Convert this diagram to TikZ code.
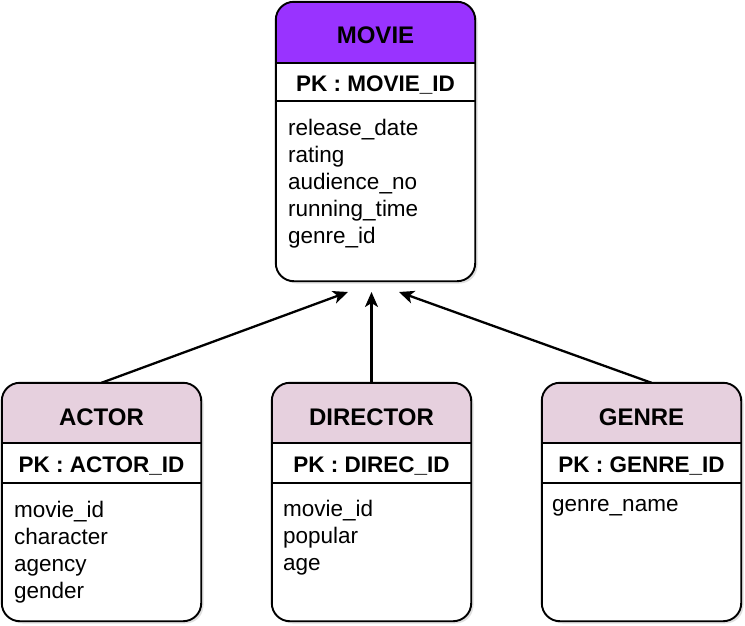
\documentclass[tikz,border=0pt]{standalone}
\usepackage{fontspec}
\setmainfont{Liberation Sans}
\usetikzlibrary{arrows.meta,shadows}

\definecolor{moviepurple}{HTML}{9933FF}
\definecolor{entitypink}{HTML}{E6D0DE}

\begin{document}
\begin{tikzpicture}[x=1pt,y=-1pt,
  box/.style={fill=white, rounded corners=18pt, minimum width=199pt, inner sep=0pt,
    drop shadow={shadow xshift=2.5pt, shadow yshift=-2.5pt, opacity=0.25}},
  border/.style={line width=1.9pt, rounded corners=18pt},
  divider/.style={line width=2.2pt},
  title/.style={font=\fontsize{24}{28}\selectfont\bfseries, anchor=base},
  pkey/.style={font=\fontsize{22.5}{27}\selectfont\bfseries, anchor=base},
  attr/.style={font=\fontsize{22.5}{27}\selectfont, anchor=base west, inner sep=0pt},
  link/.style={line width=2.3pt, -{Stealth[length=15pt,width=13pt,inset=4pt]}}]

  % Fix the page size
  \useasboundingbox (0,0) rectangle (745,625);

  % MOVIE table
  \node[box, minimum height=279pt] (movie) at (375.5,141.5) {};
  \begin{scope}
    \clip (276,2) rectangle (475,63);
    \fill[moviepurple, rounded corners=18pt] (movie.north west) rectangle (movie.south east);
  \end{scope}
  \draw[divider] (276,63) -- (475,63);
  \draw[divider] (276,101) -- (475,101);
  \draw[border] (movie.north west) rectangle (movie.south east);
  \node[title] (movie-title) at (375.5,43) {MOVIE};
  \node[pkey] (movie-pk) at (375.5,91) {PK : MOVIE\_ID};
  \foreach \t [count=\i] in {release\_date, rating, audience\_no, running\_time, genre\_id}
    \node[attr] (movie-a\i) at (288,108+27*\i) {\t};

  % ACTOR table
  \node[box, minimum height=238pt] (actor) at (101.5,502) {};
  \begin{scope}
    \clip (2,383) rectangle (201,443);
    \fill[entitypink, rounded corners=18pt] (actor.north west) rectangle (actor.south east);
  \end{scope}
  \draw[divider] (2,443) -- (201,443);
  \draw[divider] (2,483) -- (201,483);
  \draw[border] (actor.north west) rectangle (actor.south east);
  \node[title] (actor-title) at (101.5,425) {ACTOR};
  \node[pkey] (actor-pk) at (101.5,472) {PK : ACTOR\_ID};
  \foreach \t [count=\i] in {movie\_id, character, agency, gender}
    \node[attr] (actor-a\i) at (14,490+27*\i) {\t};

  % DIRECTOR table
  \node[box, minimum height=238pt] (director) at (371.5,502) {};
  \begin{scope}
    \clip (272,383) rectangle (471,443);
    \fill[entitypink, rounded corners=18pt] (director.north west) rectangle (director.south east);
  \end{scope}
  \draw[divider] (272,443) -- (471,443);
  \draw[divider] (272,483) -- (471,483);
  \draw[border] (director.north west) rectangle (director.south east);
  \node[title] (director-title) at (371.5,425) {DIRECTOR};
  \node[pkey] (director-pk) at (371.5,472) {PK : DIREC\_ID};
  \foreach \t [count=\i] in {movie\_id, popular, age}
    \node[attr] (director-a\i) at (283,489+27*\i) {\t};

  % GENRE table
  \node[box, minimum height=238pt] (genre) at (641.5,502) {};
  \begin{scope}
    \clip (542,383) rectangle (741,443);
    \fill[entitypink, rounded corners=18pt] (genre.north west) rectangle (genre.south east);
  \end{scope}
  \draw[divider] (542,443) -- (741,443);
  \draw[divider] (542,483) -- (741,483);
  \draw[border] (genre.north west) rectangle (genre.south east);
  \node[title] (genre-title) at (641.5,425) {GENRE};
  \node[pkey] (genre-pk) at (641.5,472) {PK : GENRE\_ID};
  \node[attr] (genre-a1) at (552,511) {genre\_name};

  % Arrow tips below MOVIE
  \coordinate (tipA) at (348,292);
  \coordinate (tipD) at (371.5,292);
  \coordinate (tipG) at (399,292);

  % Links to MOVIE
  \draw[link] (actor.north) -- (tipA);
  \draw[link] (director.north) -- (tipD);
  \draw[link] ([xshift=10pt]genre.north) -- (tipG);

\end{tikzpicture}
\end{document}
